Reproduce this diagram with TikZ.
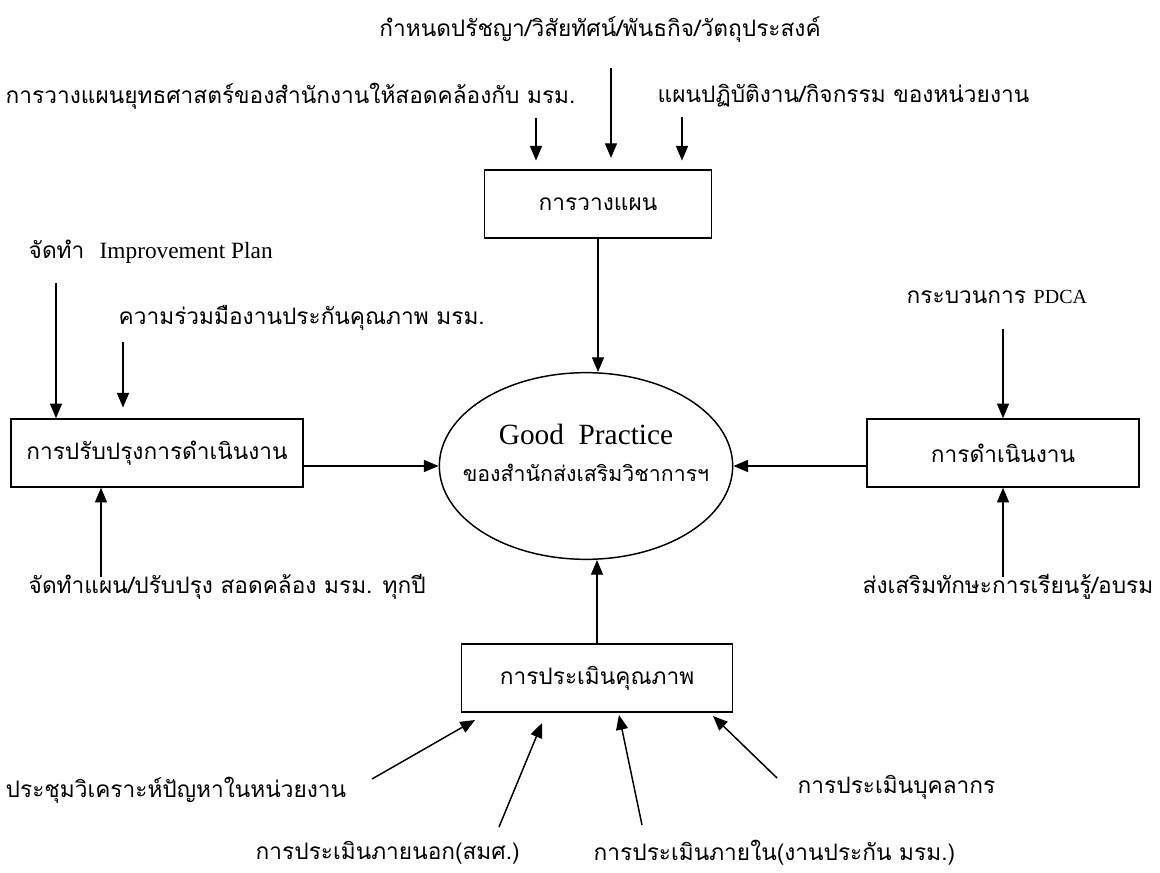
\documentclass[tikz,border=0pt]{standalone}
\usepackage{fontspec}
\setmainfont{Liberation Serif}
\newfontfamily\thaifont[Script=Thai]{Loma}
\usetikzlibrary{arrows.meta,shapes.geometric}

\begin{document}
\begin{tikzpicture}[x=0.75pt,y=-0.75pt,line width=1.1pt,
    >={Triangle[length=11pt,width=9pt]},
    every node/.style={font=\thaifont\fontsize{17}{20}\selectfont,inner sep=0pt}]
      \useasboundingbox (0,0) rectangle (1160,873);
      % labels round the picture
      \node (t_0) at (600,30) {กำหนดปรัชญา/วิสัยทัศน์/พันธกิจ/วัตถุประสงค์};
      \node[anchor=west] (t_1) at (5,96) {การวางแผนยุทธศาสตร์ของสำนักงานให้สอดคล้องกับ มรม.};
      \node[anchor=west] (t_2) at (657,96) {แผนปฏิบัติงาน/กิจกรรม ของหน่วยงาน};
      \node[anchor=west] (l_1) at (28,252) {จัดทำ\ \ {\rmfamily\fontsize{17.5}{20}\selectfont Improvement Plan}};
      \node[anchor=west] (l_2) at (118,318) {ความร่วมมืองานประกันคุณภาพ มรม.};
      \node[anchor=west] (l_3) at (28,587) {จัดทำแผน/ปรับปรุง สอดคล้อง มรม. ทุกปี};
      \node[anchor=west] (r_1) at (906,297) {กระบวนการ {\rmfamily\fontsize{15}{17}\selectfont PDCA}};
      \node[anchor=west] (r_2) at (862,587) {ส่งเสริมทักษะการเรียนรู้/อบรม};
      \node[anchor=west] (q_1) at (5,790) {ประชุมวิเคราะห์ปัญหาในหน่วยงาน};
      \node[anchor=west] (q_2) at (797,787) {การประเมินบุคลากร};
      \node[anchor=west] (q_3) at (255,853) {การประเมินภายนอก(สมศ.)};
      \node[anchor=west] (q_4) at (593,853) {การประเมินภายใน(งานประกัน มรม.)};
      % boxes
      \begin{scope}[every node/.append style={draw,minimum height=51pt}]
        \node[minimum width=170pt] (plan) at (598,204) {การวางแผน};
        \node[minimum width=219pt] (impr) at (157,453) {การปรับปรุงการดำเนินงาน};
        \node[minimum width=204pt] (oper) at (1003,453) {การดำเนินงาน};
        \node[minimum width=203pt] (eval) at (597,678) {การประเมินคุณภาพ};
      \end{scope}
      \node[draw,ellipse,inner xsep=-20pt,minimum width=220pt,minimum height=140pt,align=center] (good) at (586,466)
        {{\rmfamily\fontsize{22}{26}\selectfont Good\ \ Practice}\\[8pt]{\fontsize{16}{19}\selectfont ของสำนักส่งเสริมวิชาการฯ}\\[0pt]\mbox{}};
      % free ends of the arrows
      \coordinate (a_1) at (536,118);
      \coordinate (a_2) at (611,68);
      \coordinate (a_3) at (682,117);
      \coordinate (b_1) at (56,283);
      \coordinate (b_2) at (123,342);
      \coordinate (b_3) at (101,577);
      \coordinate (c_1) at (1003,329);
      \coordinate (c_2) at (1003,577);
      \coordinate (d_1) at (372,779);
      \coordinate (d_2) at (499,827);
      \coordinate (d_3) at (642,825);
      \coordinate (d_4) at (777,778);
      \coordinate (e_1) at (475,720);
      \coordinate (e_2) at (542,723);
      \coordinate (e_3) at (619,715);
      \coordinate (e_4) at (713,716);
      \begin{scope}[every edge/.style={draw=black,->}]
        \path (a_1) edge[shorten >=6.5pt] (a_1 |- plan.north);
        \path (a_2) edge[shorten >=8.5pt] (a_2 |- plan.north);
        \path (a_3) edge[shorten >=6.5pt] (a_3 |- plan.north);
        \path (plan.south) edge (plan.south |- good.north);

        \path (b_1) edge (b_1 |- impr.north);
        \path (b_2) edge[shorten >=8pt] (b_2 |- impr.north);
        \path (b_3) edge (b_3 |- impr.south);
        \path (impr.east |- good.west) edge (good.west);

        \path (c_1) edge (oper.north);
        \path (c_2) edge (oper.south);
        \path (oper.west |- good.east) edge (good.east);

        \path (eval.north) edge (eval.north |- good.south);
        \path (d_1) edge (e_1);
        \path (d_2) edge (e_2);
        \path (d_3) edge (e_3);
        \path (d_4) edge (e_4);
      \end{scope}
    \end{tikzpicture}
\end{document}
